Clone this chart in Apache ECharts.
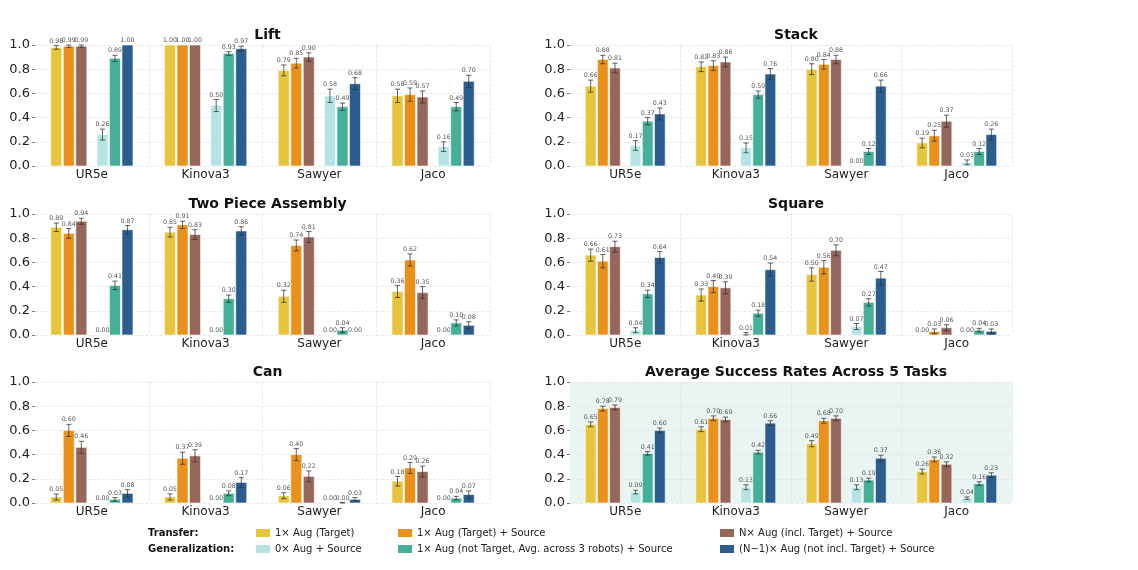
<!DOCTYPE html>
<html>
<head>
    <meta charset="utf-8">
    <title>Success rates</title>
    <script src="https://cdn.jsdelivr.net/npm/echarts@6/dist/echarts.min.js"></script>
    <style>
        html, body { margin: 0; padding: 0; background: #fff; }
        #main { width: 1138px; height: 570px; }
    </style>
</head>
<body>
<div id="main"></div>
<script type="text/javascript">
    // robots on the x axis
    var categories = ['UR5e', 'Kinova3', 'Sawyer', 'Jaco'];
    var tickLabels = ['0.0', '0.2', '0.4', '0.6', '0.8', '1.0'];
    var seriesNames = [
        '1× Aug (Target)',
        '1× Aug (Target) + Source',
        'N× Aug (incl. Target) + Source',
        '0× Aug + Source',
        '1× Aug (not Target, Avg. across 3 robots) + Source',
        '(N−1)× Aug (not incl. Target) + Source'
    ];
    var colors = ['#E6C43C', '#E8921B', '#96665A', '#B5E3E3', '#46AF97', '#2B5E8E'];
    var panelTitles = ['Lift', 'Stack', 'Two Piece Assembly', 'Square', 'Can', 'Average Success Rates Across 5 Tasks'];

    // one row per robot, one value per series (same order as seriesNames)
    var lift = [
        [0.98, 0.99, 0.99, 0.26, 0.89, 1.00],
        [1.00, 1.00, 1.00, 0.50, 0.93, 0.97],
        [0.79, 0.85, 0.90, 0.58, 0.49, 0.68],
        [0.58, 0.59, 0.57, 0.16, 0.49, 0.70]
    ];
    var liftErr = [
        [0.015, 0.010, 0.010, 0.045, 0.025, 0.000],
        [0.000, 0.000, 0.000, 0.050, 0.015, 0.020],
        [0.045, 0.040, 0.035, 0.055, 0.030, 0.050],
        [0.055, 0.055, 0.050, 0.040, 0.035, 0.050]
    ];
    var stack = [
        [0.66, 0.88, 0.81, 0.17, 0.37, 0.43],
        [0.82, 0.83, 0.86, 0.15, 0.59, 0.76],
        [0.80, 0.84, 0.88, 0.00, 0.12, 0.66],
        [0.19, 0.25, 0.37, 0.03, 0.12, 0.26]
    ];
    var stackErr = [
        [0.050, 0.035, 0.040, 0.040, 0.030, 0.050],
        [0.040, 0.040, 0.040, 0.040, 0.030, 0.045],
        [0.045, 0.040, 0.035, 0.000, 0.025, 0.050],
        [0.040, 0.045, 0.050, 0.020, 0.025, 0.045]
    ];
    var twoPiece = [
        [0.89, 0.84, 0.94, 0.00, 0.41, 0.87],
        [0.85, 0.91, 0.83, 0.00, 0.30, 0.86],
        [0.32, 0.74, 0.81, 0.00, 0.04, 0.00],
        [0.36, 0.62, 0.35, 0.00, 0.10, 0.08]
    ];
    var twoPieceErr = [
        [0.035, 0.040, 0.025, 0.000, 0.035, 0.035],
        [0.040, 0.030, 0.040, 0.000, 0.030, 0.035],
        [0.050, 0.045, 0.045, 0.000, 0.020, 0.000],
        [0.050, 0.050, 0.050, 0.000, 0.025, 0.030]
    ];
    var square = [
        [0.66, 0.61, 0.73, 0.04, 0.34, 0.64],
        [0.33, 0.40, 0.39, 0.01, 0.18, 0.54],
        [0.50, 0.56, 0.70, 0.07, 0.27, 0.47],
        [0.00, 0.03, 0.06, 0.00, 0.04, 0.03]
    ];
    var squareErr = [
        [0.050, 0.055, 0.045, 0.020, 0.030, 0.050],
        [0.050, 0.050, 0.050, 0.010, 0.025, 0.055],
        [0.055, 0.055, 0.045, 0.025, 0.030, 0.055],
        [0.000, 0.020, 0.025, 0.000, 0.015, 0.020]
    ];
    var can = [
        [0.05, 0.60, 0.46, 0.00, 0.03, 0.08],
        [0.05, 0.37, 0.39, 0.00, 0.08, 0.17],
        [0.06, 0.40, 0.22, 0.00, 0.00, 0.03],
        [0.18, 0.29, 0.26, 0.00, 0.04, 0.07]
    ];
    var canErr = [
        [0.025, 0.050, 0.050, 0.000, 0.015, 0.030],
        [0.025, 0.050, 0.050, 0.000, 0.020, 0.040],
        [0.025, 0.050, 0.045, 0.000, 0.005, 0.015],
        [0.040, 0.045, 0.045, 0.000, 0.015, 0.030]
    ];
    var average = [
        [0.65, 0.78, 0.79, 0.09, 0.41, 0.60],
        [0.61, 0.70, 0.69, 0.13, 0.42, 0.66],
        [0.49, 0.68, 0.70, 0.13, 0.19, 0.37],
        [0.26, 0.36, 0.32, 0.04, 0.16, 0.23]
    ];
    var averageErr = [
        [0.020, 0.020, 0.020, 0.015, 0.015, 0.020],
        [0.020, 0.020, 0.020, 0.020, 0.015, 0.020],
        [0.025, 0.020, 0.020, 0.020, 0.015, 0.025],
        [0.020, 0.020, 0.020, 0.010, 0.015, 0.020]
    ];

    var panelVals = [lift, stack, twoPiece, square, can, average];
    var panelErrs = [liftErr, stackErr, twoPieceErr, squareErr, canErr, averageErr];

    // bar centre offsets inside a category band (fraction of band width)
    var offs = [-0.313, -0.203, -0.093, 0.093, 0.203, 0.313];
    var barFrac = 0.097;

    var colLeft = [35, 570];
    var colWidth = [455, 442];
    var rowTop = [45, 214, 382];
    var rowH = 121;

    var charts = echarts.init(document.getElementById('main'));

    function makeRender(k) {
        return function (params, api) {
            var ci = api.value(0), v = api.value(1), e = api.value(2);
            var band = api.size([1, 0])[0];
            var base = api.coord([ci, 0]);
            var cx = base[0] + offs[k] * band;
            var bw = barFrac * band;
            var top = api.coord([ci, v])[1];
            var eTop = api.coord([ci, v + e])[1];
            var eBot = api.coord([ci, Math.max(v - e, 0)])[1];
            var kids = [{
                type: 'rect',
                shape: { x: cx - bw / 2, y: top, width: bw, height: base[1] - top },
                style: { fill: colors[k], stroke: '#fff', lineWidth: 0.6 }
            }];
            if (e > 0) {
                var cap = 2.6;
                var es = { stroke: 'rgba(50,50,50,0.75)', lineWidth: 1 };
                kids.push({ type: 'line', shape: { x1: cx, y1: eTop, x2: cx, y2: eBot }, style: es });
                kids.push({ type: 'line', shape: { x1: cx - cap, y1: eTop, x2: cx + cap, y2: eTop }, style: es });
                kids.push({ type: 'line', shape: { x1: cx - cap, y1: eBot, x2: cx + cap, y2: eBot }, style: es });
            }
            kids.push({
                type: 'text',
                style: {
                    text: v.toFixed(2), x: cx, y: eTop - 1.5,
                    align: 'center', verticalAlign: 'bottom',
                    fontSize: 6.3, fill: '#555', fontFamily: 'DejaVu Sans'
                }
            });
            return { type: 'group', children: kids };
        };
    }

    var option = {
        backgroundColor: '#fff',
        animation: false,
        textStyle: { fontFamily: 'DejaVu Sans' },
        title: [],
        grid: [],
        xAxis: [],
        yAxis: [],
        series: [],
        legend: [],
        graphic: [
            { type: 'text', left: 148, top: 528, style: { text: 'Transfer:', fontSize: 10, fontWeight: 'bold', fill: '#111', fontFamily: 'DejaVu Sans' } },
            { type: 'text', left: 148, top: 544, style: { text: 'Generalization:', fontSize: 10, fontWeight: 'bold', fill: '#111', fontFamily: 'DejaVu Sans' } }
        ]
    };

    for (var p = 0; p < 6; p++) {
        var col = p % 2, row = Math.floor(p / 2);
        var isAvg = p === 5;
        option.grid.push({
            left: colLeft[col], top: rowTop[row], width: colWidth[col], height: rowH,
            show: isAvg, backgroundColor: isAvg ? '#EAF4F2' : 'transparent', borderWidth: 0
        });
        option.title.push({
            text: panelTitles[p],
            left: colLeft[col] + colWidth[col] / 2, top: rowTop[row] - 22,
            textAlign: 'center',
            textStyle: { fontSize: 14, fontWeight: 'bold', color: '#111', fontFamily: 'DejaVu Sans' }
        });
        option.xAxis.push({
            type: 'category', gridIndex: p, data: categories,
            axisLine: { show: false }, axisTick: { show: false },
            axisLabel: { fontSize: 12, color: '#222', margin: 3 },
            splitLine: {
                show: true,
                interval: function (i) { return i > 0; },
                lineStyle: { color: '#e2e2e2', type: 'dashed', width: 0.8 }
            }
        });
        option.yAxis.push({
            type: 'value', gridIndex: p, min: 0, max: 1, interval: 0.2,
            axisLine: { show: false },
            axisTick: { show: true, length: 3, lineStyle: { color: '#777' } },
            axisLabel: { fontSize: 13, color: '#222', margin: 5, formatter: function (v) { return tickLabels[Math.round(v * 5)]; } },
            splitLine: { show: true, lineStyle: { color: '#e2e2e2', type: 'dashed', width: 0.8 } }
        });
        for (var k = 0; k < 6; k++) {
            var d = [];
            for (var c = 0; c < categories.length; c++) {
                d.push([c, panelVals[p][c][k], panelErrs[p][c][k]]);
            }
            option.series.push({
                type: 'custom', name: seriesNames[k],
                xAxisIndex: p, yAxisIndex: p,
                itemStyle: { color: colors[k] },
                encode: { x: 0, y: 1 },
                clip: false,
                renderItem: makeRender(k),
                data: d
            });
        }
    }

    var legendCols = [[0, 3, 256], [1, 4, 398], [2, 5, 720]];
    legendCols.forEach(function (lc) {
        option.legend.push({
            orient: 'vertical', left: lc[2], top: 528, padding: 0, itemGap: 6,
            itemWidth: 14, itemHeight: 8, icon: 'rect', selectedMode: false,
            textStyle: { fontSize: 10, color: '#222', fontFamily: 'DejaVu Sans' },
            data: [
                { name: seriesNames[lc[0]], itemStyle: { color: colors[lc[0]] } },
                { name: seriesNames[lc[1]], itemStyle: { color: colors[lc[1]] } }
            ]
        });
    });

    charts.setOption(option);
</script>
</body>
</html>
